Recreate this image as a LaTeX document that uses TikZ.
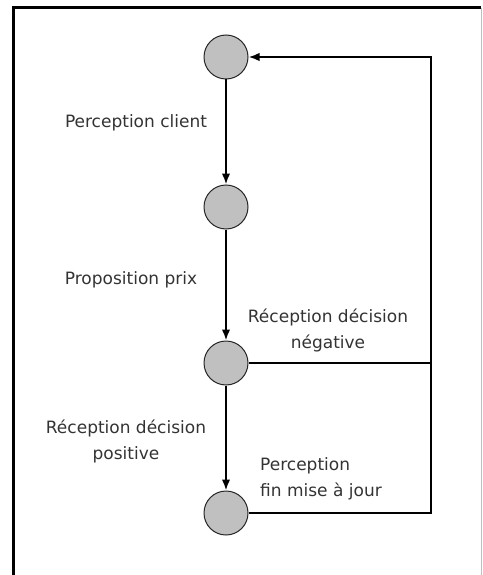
\documentclass[tikz,border=0pt]{standalone}
\usepackage{fontspec}
\setmainfont{DejaVu Sans}
\usetikzlibrary{arrows.meta, calc, positioning}
\definecolor{txtgray}{HTML}{333333}
\definecolor{stategray}{HTML}{C0C0C0}

\begin{document}
\begin{tikzpicture}[x=1pt, y=-1pt, >={Latex[length=11pt, width=8.5pt]},
    font=\fontsize{17}{26}\selectfont,
    state/.style={circle, draw=black!85, line width=1pt, fill=stategray, minimum size=44pt, inner sep=0pt},
    lbl/.style={text=txtgray, inner sep=0pt},
    flow/.style={line width=2pt}]

    \useasboundingbox (0,0) rectangle (482,575);

    % cadre
    \coordinate (frame-bl) at (13,590);
    \coordinate (frame-tr) at (481,8);
    \coordinate (frame-br) at (481,590);
    \draw[line width=3pt] (frame-bl) |- (frame-tr);
    \draw[black!25, line width=1pt] (frame-tr) -- (frame-br);

    \node[state] (client) at (226,57) {};
    \node[state, below = 105pt of client] (prix) {};
    \node[state, below = 111pt of prix] (decision) {};
    \node[state, below = 105pt of decision] (fin) {};

    \node[lbl] (perc-client) at (136,123) {Perception client};
    \node[lbl] (prop-prix) at (131,280) {Proposition prix};
    \node[lbl, align=center] (dec-neg) at (328,330) {Réception décision\\négative};
    \node[lbl, align=center] (dec-pos) at (126,441) {Réception décision\\positive};
    \node[lbl, align=left, anchor=west] (perc-fin) at (260,479) {Perception\\fin mise à jour};

    \draw[flow, ->] (client) -- (prix);
    \draw[flow, ->] (prix) -- (decision);
    \draw[flow, ->] (decision) -- (fin);

    \coordinate[right = 182pt of client.east] (corner);
    \draw[flow, ->] (fin.east) -| (corner) -- (client.east);
    \draw[flow] (decision.east) -- (decision.east -| corner);

\end{tikzpicture}
\end{document}
